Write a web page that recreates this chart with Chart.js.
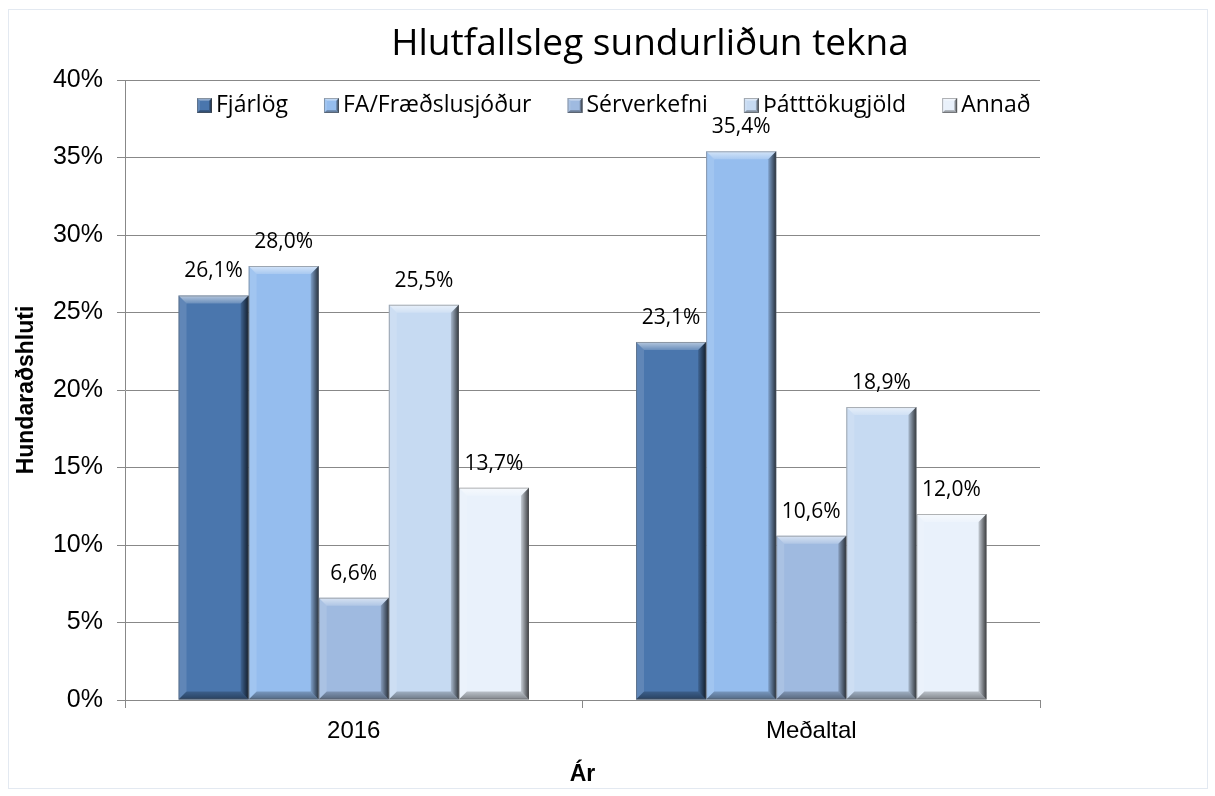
<!DOCTYPE html>
<html>
<head>
<meta charset="utf-8">
<script src="https://cdn.jsdelivr.net/npm/chart.js@4/dist/chart.umd.min.js"></script>
<style>
  html, body { margin: 0; padding: 0; background: #fff; }
  #wrap { position: relative; width: 1215px; height: 796px; }
  #frame { position: absolute; left: 8px; top: 9px; width: 1198px; height: 778px; border: 1px solid #e3e9f1; }
</style>
</head>
<body>
<div id="wrap">
  <div id="frame"></div>
  <canvas id="myChart" width="1215" height="796"></canvas>
</div>
<script>
// Gögn
const flokkar = ['2016', 'Meðaltal'];
const heiti = ['Fjárlög', 'FA/Fræðslusjóður', 'Sérverkefni', 'Þátttökugjöld', 'Annað'];
const fjarlog = [26.1, 23.1];
const fraedslusjodur = [28.0, 35.4];
const serverkefni = [6.6, 10.6];
const thatttokugjold = [25.5, 18.9];
const annad = [13.7, 12.0];
const yTicks = [0, 5, 10, 15, 20, 25, 30, 35, 40];

const litir = ['#4a76ad', '#95bdee', '#9fbae0', '#c6daf2', '#e9f1fb'];
const gildi = [fjarlog, fraedslusjodur, serverkefni, thatttokugjold, annad];

function fmt(v) {
    return v.toFixed(1).replace('.', ',') + '%';
}

// skáflötur á súlum (eins og 3D súlur í office)
function bevel(ctx, left, top, right, bottom, b) {
    ctx.save();
    // efri
    let g = ctx.createLinearGradient(0, top, 0, top + b);
    g.addColorStop(0, 'rgba(255,255,255,0.6)');
    g.addColorStop(1, 'rgba(255,255,255,0.18)');
    ctx.fillStyle = g;
    ctx.beginPath();
    ctx.moveTo(left, top); ctx.lineTo(right, top); ctx.lineTo(right - b, top + b); ctx.lineTo(left + b, top + b);
    ctx.closePath(); ctx.fill();
    // vinstri
    ctx.fillStyle = 'rgba(255,255,255,0.12)';
    ctx.beginPath();
    ctx.moveTo(left, top); ctx.lineTo(left + b, top + b); ctx.lineTo(left + b, bottom - b); ctx.lineTo(left, bottom);
    ctx.closePath(); ctx.fill();
    // hægri
    g = ctx.createLinearGradient(right - b, 0, right, 0);
    g.addColorStop(0, 'rgba(0,0,0,0.15)');
    g.addColorStop(1, 'rgba(0,0,0,0.75)');
    ctx.fillStyle = g;
    ctx.beginPath();
    ctx.moveTo(right, top); ctx.lineTo(right, bottom); ctx.lineTo(right - b, bottom - b); ctx.lineTo(right - b, top + b);
    ctx.closePath(); ctx.fill();
    // neðri
    g = ctx.createLinearGradient(0, bottom - b, 0, bottom);
    g.addColorStop(0, 'rgba(0,0,0,0.2)');
    g.addColorStop(1, 'rgba(0,0,0,0.45)');
    ctx.fillStyle = g;
    ctx.beginPath();
    ctx.moveTo(left, bottom); ctx.lineTo(right, bottom); ctx.lineTo(right - b, bottom - b); ctx.lineTo(left + b, bottom - b);
    ctx.closePath(); ctx.fill();
    ctx.strokeStyle = 'rgba(90,90,90,0.45)';
    ctx.lineWidth = 1;
    ctx.strokeRect(left + 0.5, top + 0.5, right - left - 1, bottom - top - 1);
    ctx.restore();
}

const skraut = {
    id: 'skraut',
    afterDatasetsDraw(chart) {
        const ctx = chart.ctx;
        chart.data.datasets.forEach((ds, i) => {
            const meta = chart.getDatasetMeta(i);
            meta.data.forEach((bar, j) => {
                const p = bar.getProps(['x', 'y', 'base', 'width'], true);
                const left = p.x - p.width / 2, right = p.x + p.width / 2;
                bevel(ctx, left, p.y, right, p.base, 8);
                ctx.save();
                ctx.fillStyle = '#000';
                ctx.font = '21px "Open Sans", sans-serif';
                ctx.textAlign = 'center';
                ctx.textBaseline = 'middle';
                ctx.fillText(fmt(ds.data[j]), p.x, p.y - 24);
                ctx.restore();
            });
        });
    },
    afterDraw(chart) {
        const ctx = chart.ctx;
        const area = chart.chartArea;
        // titill
        ctx.save();
        ctx.fillStyle = '#000';
        ctx.font = '37px "Open Sans", sans-serif';
        ctx.textAlign = 'center';
        ctx.textBaseline = 'middle';
        ctx.fillText('Hlutfallsleg sundurliðun tekna', 650, 44);
        ctx.restore();
        // skýringar inni í teiknisvæði
        ctx.save();
        ctx.beginPath();
        ctx.rect(area.left, area.top, area.right - area.left, area.bottom - area.top);
        ctx.clip();
        ctx.font = '23px "Open Sans", sans-serif';
        ctx.textBaseline = 'middle';
        let x = area.left + 72;
        const y = area.top + 25;
        chart.data.datasets.forEach((ds) => {
            ctx.fillStyle = ds.backgroundColor;
            ctx.fillRect(x, y - 7, 15, 15);
            bevel(ctx, x, y - 7, x + 15, y + 8, 3);
            ctx.fillStyle = '#000';
            ctx.fillText(ds.label, x + 19, y);
            x += 19 + ctx.measureText(ds.label).width + 36;
        });
        ctx.restore();
    }
};

const ctx = document.getElementById('myChart');

new Chart(ctx, {
    type: 'bar',
    data: {
        labels: flokkar,
        datasets: heiti.map((h, i) => ({
            label: h,
            data: gildi[i],
            backgroundColor: litir[i],
            borderWidth: 0,
            categoryPercentage: 0.766,
            barPercentage: 1
        }))
    },
    options: {
        responsive: false,
        animation: false,
        layout: {
            padding: { top: 80, right: 175, bottom: 0, left: 0 }
        },
        plugins: {
            legend: { display: false },
            tooltip: { enabled: false },
            title: { display: false }
        },
        scales: {
            x: {
                afterFit(scale) { scale.height = 96; },
                grid: {
                    offset: true,
                    drawOnChartArea: false,
                    drawTicks: true,
                    tickLength: 8,
                    color: '#888'
                },
                border: { color: '#888', width: 1 },
                ticks: {
                    color: '#000',
                    padding: 9,
                    font: { family: '"Liberation Sans", Arial, sans-serif', size: 24 }
                },
                title: {
                    display: true,
                    text: 'Ár',
                    color: '#000',
                    padding: { top: 0, bottom: 8 },
                    font: { family: '"Liberation Sans", Arial, sans-serif', size: 23, weight: 'bold' }
                }
            },
            y: {
                min: 0,
                max: 40,
                afterFit(scale) { scale.width = 125; },
                afterBuildTicks(scale) { scale.ticks = yTicks.map(v => ({ value: v })); },
                grid: {
                    color: '#888',
                    drawTicks: true,
                    tickLength: 8
                },
                border: { color: '#888', width: 1 },
                ticks: {
                    color: '#000',
                    padding: 14,
                    font: { family: '"Liberation Sans", Arial, sans-serif', size: 25 },
                    callback: v => v + '%'
                },
                title: {
                    display: true,
                    text: 'Hundaraðshluti',
                    color: '#000',
                    padding: { top: 13, bottom: 0 },
                    font: { family: '"Liberation Sans", Arial, sans-serif', size: 23, weight: 'bold' }
                }
            }
        }
    },
    plugins: [skraut]
});
</script>
</body>
</html>
